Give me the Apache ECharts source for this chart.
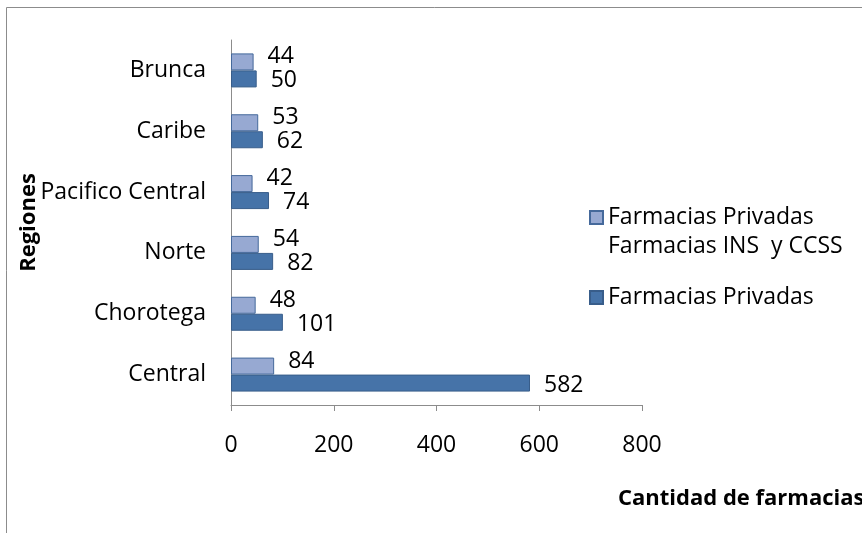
<!DOCTYPE html>
<html>
<head>
<meta charset="utf-8">
<script src="https://cdn.jsdelivr.net/npm/echarts@6/dist/echarts.min.js"></script>
<style>
  html, body { margin: 0; padding: 0; background: #fff; }
  #chart { width: 862px; height: 533px; }
</style>
</head>
<body>
<div id="chart"></div>
<script>
// datos
var regiones = ["Central", "Chorotega", "Norte", "Pacifico Central", "Caribe", "Brunca"];
var insCcss = [84, 48, 54, 42, 53, 44];
var privadas = [582, 101, 82, 74, 62, 50];
var xTicks = [0, 200, 400, 600, 800];

var FONT = "Open Sans";
var nombreIns = "Farmacias Privadas\nFarmacias INS  y CCSS";
var nombrePriv = "Farmacias Privadas";

var myChart = echarts.init(document.getElementById("chart"));

var option = {
  animation: false,
  backgroundColor: "#fff",
  textStyle: { fontFamily: FONT },
  graphic: [
    {
      type: "rect",
      shape: { x: 6.5, y: 7.5, width: 900, height: 600 },
      style: { fill: "none", stroke: "#8c8c8c", lineWidth: 1 }
    }
  ],
  grid: { left: 231, right: 220, top: 40, bottom: 128, outerBoundsMode: "none" },
  legend: {
    orient: "vertical",
    left: 589,
    top: 174,
    padding: 0,
    itemGap: 22,
    itemWidth: 13,
    itemHeight: 13,
    icon: "rect",
    data: [nombreIns, nombrePriv],
    // linea vacia arriba: el icono queda alineado con la primera linea del texto
    formatter: function (name) {
      return name === nombreIns ? "\n" + name : name;
    },
    textStyle: { fontFamily: FONT, fontSize: 23, color: "#000", lineHeight: 29 }
  },
  xAxis: {
    type: "value",
    min: xTicks[0],
    max: xTicks[xTicks.length - 1],
    interval: 200,
    name: "Cantidad de farmacias",
    nameLocation: "end",
    nameGap: -24,
    nameTextStyle: {
      fontFamily: FONT, fontSize: 22, fontWeight: "bold", color: "#000",
      align: "left", verticalAlign: "top", padding: [83, 0, 0, 0]
    },
    axisLine: { show: true, lineStyle: { color: "#8c8c8c", width: 1 } },
    axisTick: { show: true, length: 6, lineStyle: { color: "#8c8c8c" } },
    axisLabel: { fontFamily: FONT, fontSize: 23, color: "#000", margin: 29 },
    splitLine: { show: false }
  },
  yAxis: {
    type: "category",
    data: regiones,
    name: "Regiones",
    nameLocation: "middle",
    nameRotate: 90,
    nameGap: 191,
    nameMoveOverlap: false,
    nameTextStyle: { fontFamily: FONT, fontSize: 22, fontWeight: "bold", color: "#000" },
    axisLine: { show: true, lineStyle: { color: "#8c8c8c", width: 1 } },
    axisTick: { show: false },
    axisLabel: { fontFamily: FONT, fontSize: 23, color: "#000", margin: 25 }
  },
  series: [
    {
      name: nombreIns,
      type: "bar",
      data: insCcss,
      barWidth: 17,
      barGap: "0%",
      itemStyle: { color: "#97a9d2", borderColor: "#45699b", borderWidth: 1 },
      label: {
        show: true,
        position: "right",
        distance: 14,
        offset: [0, -5],
        fontFamily: FONT,
        fontSize: 23,
        color: "#000"
      }
    },
    {
      name: nombrePriv,
      type: "bar",
      data: privadas,
      barWidth: 17,
      barGap: "0%",
      itemStyle: { color: "#4673a8", borderColor: "#385d8a", borderWidth: 1 },
      label: {
        show: true,
        position: "right",
        distance: 14,
        offset: [0, 2],
        fontFamily: FONT,
        fontSize: 23,
        color: "#000"
      }
    }
  ]
};

myChart.setOption(option);
</script>
</body>
</html>
